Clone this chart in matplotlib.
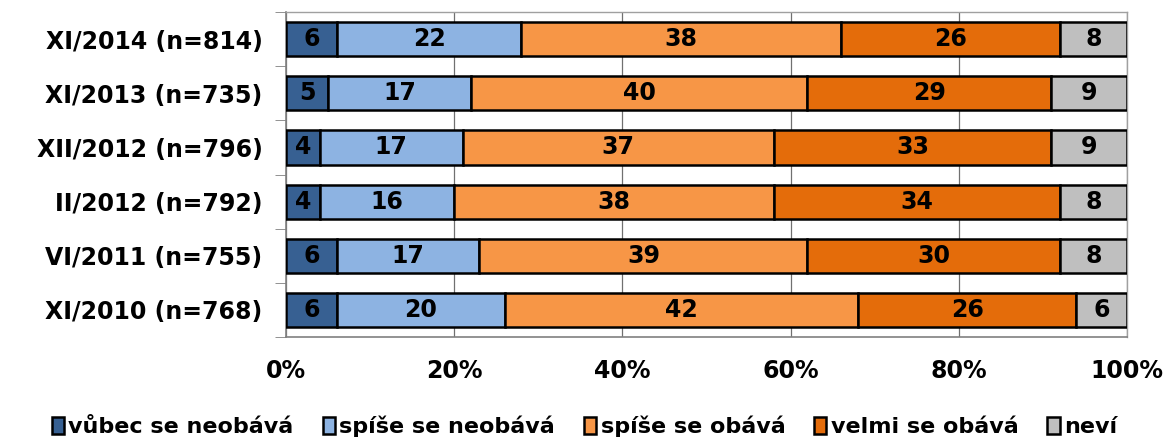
import matplotlib.pyplot as plt
import numpy as np

plt.rcParams['font.family'] = ['DejaVu Sans']
plt.rcParams['font.weight'] = 'bold'

categories = ["XI/2014 (n=814)", "XI/2013 (n=735)", "XII/2012 (n=796)",
              "II/2012 (n=792)", "VI/2011 (n=755)", "XI/2010 (n=768)"]
series_names = ["vůbec se neobává", "spíše se neobává", "spíše se obává",
                "velmi se obává", "neví"]
vubec = [6, 5, 4, 4, 6, 6]
spise_ne = [22, 17, 17, 16, 17, 20]
spise_ob = [38, 40, 37, 38, 39, 42]
velmi = [26, 29, 33, 34, 30, 26]
nevi = [8, 9, 9, 8, 8, 6]
colors = ["#376092", "#8DB3E2", "#F79646", "#E46C0A", "#BFBFBF"]

data = np.array([vubec, spise_ne, spise_ob, velmi, nevi], dtype=float)
# scale each row to 100 %
totals = data.sum(axis=0)
shares = data / totals * 100

fig = plt.figure(figsize=(11.69, 4.46), dpi=100)
ax = fig.add_axes([0.2447, 0.2444, 0.964 - 0.2447, 0.973 - 0.2444])

y = np.arange(len(categories))
left = np.zeros(len(categories))
for i in range(len(series_names)):
    ax.barh(y, shares[i], left=left, height=0.63, color=colors[i],
            edgecolor="black", linewidth=1.8, label=series_names[i], zorder=3)
    for j in range(len(categories)):
        ax.text(left[j] + shares[i][j] / 2, y[j], f"{int(data[i][j])}",
                ha="center", va="center", fontsize=17, fontweight="bold",
                color="black", zorder=4)
    left += shares[i]

ax.set_xlim(0, 100)
ax.set_ylim(len(categories) - 0.5, -0.5)
ax.set_xticks([0, 20, 40, 60, 80, 100])
ax.set_xticklabels(["0%", "20%", "40%", "60%", "80%", "100%"],
                   fontsize=17, fontweight="bold")
ax.set_yticks(y)
ax.set_yticklabels(categories, fontsize=17, fontweight="bold")
ax.set_yticks(np.arange(-0.5, len(categories), 1), minor=True)
ax.tick_params(axis="y", which="major", length=0, pad=17)
ax.tick_params(axis="y", which="minor", length=8, color="#808080")
ax.tick_params(axis="x", length=0, pad=16)
ax.xaxis.grid(True, color="#707070", linewidth=0.9, zorder=0)

for side in ["left", "bottom"]:
    ax.spines[side].set_color("#808080")
    ax.spines[side].set_linewidth(1.2)
for side in ["top", "right"]:
    ax.spines[side].set_color("#A0A0A0")
    ax.spines[side].set_linewidth(1)

fig.legend(loc="lower center", bbox_to_anchor=(0.5, -0.025), ncol=5,
           frameon=False, handlelength=0.55, handleheight=0.85,
           handletextpad=0.2, columnspacing=1.3,
           prop={"weight": "bold", "size": 16})

fig.savefig("out.png", dpi=100)
